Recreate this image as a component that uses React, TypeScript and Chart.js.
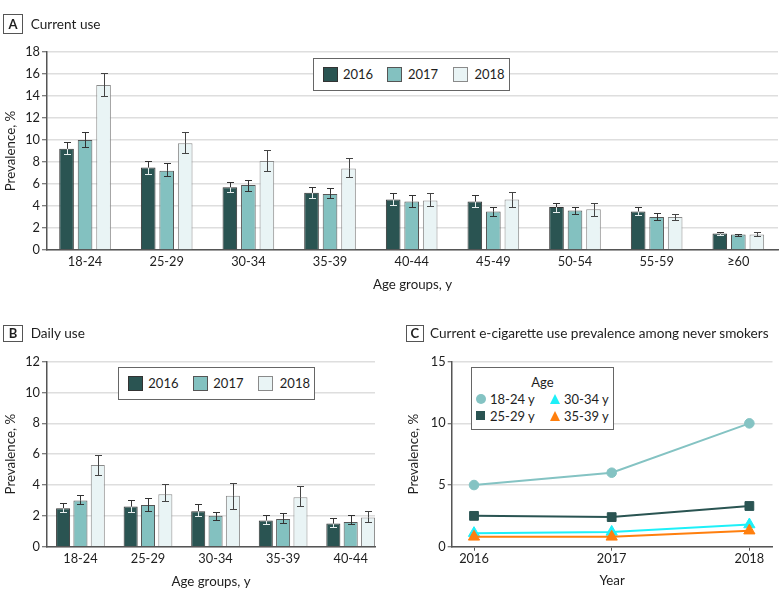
import React, { useEffect, useRef } from "react";
import { Chart, registerables } from "chart.js";

Chart.register(...registerables);

// ---------------- DATA ----------------
const ageGroupsA = ["18-24", "25-29", "30-34", "35-39", "40-44", "45-49", "50-54", "55-59", "≥60"];
const ageGroupsB = ["18-24", "25-29", "30-34", "35-39", "40-44"];
const yearLabels = ["2016", "2017", "2018"];

const current2016 = [9.2, 7.5, 5.7, 5.2, 4.6, 4.4, 3.9, 3.5, 1.5];
const current2016Low = [8.7, 6.95, 5.3, 4.75, 4.1, 3.9, 3.5, 3.2, 1.4];
const current2016High = [9.8, 8.1, 6.2, 5.7, 5.2, 5.0, 4.3, 3.9, 1.6];
const current2017 = [10.0, 7.2, 5.9, 5.1, 4.4, 3.5, 3.6, 3.0, 1.4];
const current2017Low = [9.4, 6.7, 5.4, 4.7, 3.9, 3.1, 3.3, 2.7, 1.3];
const current2017High = [10.7, 7.9, 6.4, 5.6, 5.0, 3.9, 3.9, 3.4, 1.5];
const current2018 = [15.0, 9.7, 8.1, 7.4, 4.5, 4.6, 3.7, 3.0, 1.4];
const current2018Low = [14.0, 8.8, 7.2, 6.6, 4.0, 3.9, 3.1, 2.7, 1.25];
const current2018High = [16.1, 10.7, 9.1, 8.4, 5.15, 5.3, 4.3, 3.3, 1.6];

const daily2016 = [2.5, 2.6, 2.3, 1.7, 1.5];
const daily2016Low = [2.25, 2.27, 2.0, 1.47, 1.26];
const daily2016High = [2.85, 3.03, 2.75, 2.03, 1.84];
const daily2017 = [3.0, 2.7, 2.0, 1.8, 1.6];
const daily2017Low = [2.77, 2.34, 1.73, 1.56, 1.45];
const daily2017High = [3.35, 3.14, 2.23, 2.16, 2.05];
const daily2018 = [5.3, 3.4, 3.3, 3.2, 1.9];
const daily2018Low = [4.65, 2.94, 2.47, 2.64, 1.58];
const daily2018High = [5.93, 4.05, 4.15, 3.94, 2.33];

const neverYears = [2016, 2017, 2018];
const ageGroupsC = ["18-24 y", "25-29 y", "30-34 y", "35-39 y"];
const never1824 = [5.0, 6.0, 10.0];
const never2529 = [2.5, 2.4, 3.3];
const never3034 = [1.1, 1.2, 1.8];
const never3539 = [0.8, 0.8, 1.3];

// ---------------- STYLE ----------------
const FONT = "Lato, 'Noto Sans', sans-serif";
const TEXT = "#1e1e1e";
const GRID = "#dedede";
const AXIS = "#555555";

const FILL16 = "#2a5452";
const FILL17 = "#83c1c0";
const FILL18 = "#e9f4f5";
const EDGE16 = "#333333";
const EDGE17 = "#555555";
const EDGE18 = "#8a8a8a";

const LINE1824 = "#84c3c3";
const LINE2529 = "#2a5452";
const LINE3034 = "#1ef0f8";
const LINE3539 = "#ff7f0e";

const TITLE_SIZE = 13.6;
const AXIS_TITLE_SIZE = 13.3;
const TICK_SIZE = 12.8;

Chart.defaults.font.family = FONT;
Chart.defaults.color = TEXT;

const errorBarPlugin = {
  id: "errorBars",
  afterDatasetsDraw(chart: any) {
    const ctx = chart.ctx;
    const yScale = chart.scales.y;
    chart.data.datasets.forEach((ds: any, di: number) => {
      if (!ds.errLow) return;
      const meta = chart.getDatasetMeta(di);
      meta.data.forEach((bar: any, i: number) => {
        const x = Math.round(bar.x) + 0.5;
        const yTop = bar.y;
        const yl = Math.round(yScale.getPixelForValue(ds.errLow[i])) + 0.5;
        const yh = Math.round(yScale.getPixelForValue(ds.errHigh[i])) + 0.5;
        const cap = 3.5;
        ctx.save();
        ctx.lineWidth = 1;
        ctx.strokeStyle = ds.errInner;
        ctx.beginPath();
        ctx.moveTo(x, yl);
        ctx.lineTo(x, yTop);
        ctx.moveTo(x - cap, yl);
        ctx.lineTo(x + cap, yl);
        ctx.stroke();
        ctx.strokeStyle = ds.errColor;
        ctx.beginPath();
        ctx.moveTo(x, yTop);
        ctx.lineTo(x, yh);
        ctx.moveTo(x - cap, yh);
        ctx.lineTo(x + cap, yh);
        ctx.stroke();
        ctx.restore();
      });
    });
  },
};

type Series = {
  label: string;
  values: number[];
  low: number[];
  high: number[];
  fill: string;
  border: string;
  errColor: string;
  errInner: string;
};

function makeBarConfig(p: {
  labels: string[];
  series: Series[];
  yMax: number;
  yStep: number;
  xMin: number;
  xMax: number;
  catPct: number;
  barPct: number;
  padTop: number;
  padRight: number;
  yAxisW: number;
  xAxisH: number;
  xTitlePad: number;
  yTitlePad: number;
}) {
  return {
    type: "bar",
    data: {
      datasets: p.series.map((s) => ({
        label: s.label,
        data: s.values.map((v, i) => ({ x: i, y: v })),
        backgroundColor: s.fill,
        borderColor: s.border,
        borderWidth: 1,
        borderSkipped: "bottom",
        categoryPercentage: p.catPct,
        barPercentage: p.barPct,
        errLow: s.low,
        errHigh: s.high,
        errColor: s.errColor,
        errInner: s.errInner,
      })),
    },
    options: {
      responsive: false,
      animation: false,
      devicePixelRatio: 1,
      layout: { padding: { top: p.padTop, right: p.padRight, left: 0, bottom: 0 } },
      plugins: { legend: { display: false }, tooltip: { enabled: false } },
      scales: {
        x: {
          type: "linear",
          min: p.xMin,
          max: p.xMax,
          bounds: "data",
          offset: false,
          grid: { display: false, drawTicks: false, offset: false },
          border: { display: true, color: AXIS, width: 1.5 },
          afterBuildTicks: (s: any) => {
            s.ticks = p.labels.map((_, i) => ({ value: i }));
          },
          ticks: {
            callback: (v: any) => p.labels[Math.round(Number(v))] ?? "",
            padding: 4,
            autoSkip: false,
            maxRotation: 0,
            font: { size: TICK_SIZE, lineHeight: 1.2 },
            color: TEXT,
          },
          title: {
            display: true,
            text: "Age groups, y",
            font: { size: AXIS_TITLE_SIZE, lineHeight: 1.2 },
            color: TEXT,
            padding: { top: 0, bottom: p.xTitlePad },
          },
          afterFit: (s: any) => {
            s.height = p.xAxisH;
          },
        },
        y: {
          min: 0,
          max: p.yMax,
          ticks: { stepSize: p.yStep, padding: 2, font: { size: TICK_SIZE, lineHeight: 1.2 }, color: TEXT },
          grid: {
            color: GRID,
            lineWidth: 1.5,
            drawTicks: true,
            tickLength: 5,
            tickColor: AXIS,
            tickWidth: 1,
          },
          border: { display: true, color: AXIS, width: 1.5 },
          title: {
            display: true,
            text: "Prevalence, %",
            font: { size: AXIS_TITLE_SIZE, lineHeight: 1.2 },
            color: TEXT,
            padding: { top: p.yTitlePad, bottom: 0 },
          },
          afterFit: (s: any) => {
            s.width = p.yAxisW;
          },
        },
      },
    },
    plugins: [errorBarPlugin],
  };
}

function makeConfigA() {
  return makeBarConfig({
    labels: ageGroupsA,
    series: [
      { label: yearLabels[0], values: current2016, low: current2016Low, high: current2016High, fill: FILL16, border: EDGE16, errColor: "#333", errInner: "#e6eeee" },
      { label: yearLabels[1], values: current2017, low: current2017Low, high: current2017High, fill: FILL17, border: EDGE17, errColor: "#333", errInner: "#333" },
      { label: yearLabels[2], values: current2018, low: current2018Low, high: current2018High, fill: FILL18, border: EDGE18, errColor: "#444", errInner: "#444" },
    ],
    yMax: 18,
    yStep: 2,
    xMin: -0.466,
    xMax: 8.486,
    catPct: 0.68,
    barPct: 0.79,
    padTop: 52,
    padRight: 2,
    yAxisW: 47,
    xAxisH: 50,
    xTitlePad: 7.8,
    yTitlePad: 2.8,
  });
}

function makeConfigB() {
  return makeBarConfig({
    labels: ageGroupsB,
    series: [
      { label: yearLabels[0], values: daily2016, low: daily2016Low, high: daily2016High, fill: FILL16, border: EDGE16, errColor: "#333", errInner: "#e6eeee" },
      { label: yearLabels[1], values: daily2017, low: daily2017Low, high: daily2017High, fill: FILL17, border: EDGE17, errColor: "#333", errInner: "#333" },
      { label: yearLabels[2], values: daily2018, low: daily2018Low, high: daily2018High, fill: FILL18, border: EDGE18, errColor: "#444", errInner: "#444" },
    ],
    yMax: 12,
    yStep: 2,
    xMin: -0.495,
    xMax: 4.36,
    catPct: 0.77,
    barPct: 0.81,
    padTop: 61.7,
    padRight: 15,
    yAxisW: 47,
    xAxisH: 51.3,
    xTitlePad: 8.8,
    yTitlePad: 2.8,
  });
}

function makeConfigC() {
  const mk = (label: string, vals: number[], color: string, style: string, radius: number, order: number) => ({
    label,
    data: vals.map((v, i) => ({ x: neverYears[i], y: v })),
    borderColor: color,
    backgroundColor: color,
    borderWidth: 2,
    pointStyle: style,
    pointRadius: radius,
    pointBorderWidth: 1,
    pointBackgroundColor: color,
    pointBorderColor: color,
    order,
  });
  return {
    type: "line",
    data: {
      datasets: [
        mk(ageGroupsC[0], never1824, LINE1824, "circle", 4.8, 3),
        mk(ageGroupsC[1], never2529, LINE2529, "rect", 6.2, 2),
        mk(ageGroupsC[2], never3034, LINE3034, "triangle", 6.5, 1),
        mk(ageGroupsC[3], never3539, LINE3539, "triangle", 6.5, 0),
      ],
    },
    options: {
      responsive: false,
      animation: false,
      devicePixelRatio: 1,
      layout: { padding: { top: 61.7, right: 3.3, left: 0, bottom: 0 } },
      plugins: { legend: { display: false }, tooltip: { enabled: false } },
      scales: {
        x: {
          type: "linear",
          min: 2015.838,
          max: 2018.168,
          bounds: "data",
          offset: false,
          grid: { display: true, drawOnChartArea: false, drawTicks: true, tickLength: 4, tickColor: AXIS, tickWidth: 1 },
          border: { display: true, color: AXIS, width: 1.5 },
          afterBuildTicks: (s: any) => {
            s.ticks = neverYears.map((v) => ({ value: v }));
          },
          ticks: {
            callback: (v: any) => String(v),
            padding: 0,
            autoSkip: false,
            maxRotation: 0,
            font: { size: TICK_SIZE, lineHeight: 1.2 },
            color: TEXT,
          },
          title: {
            display: true,
            text: "Year",
            font: { size: AXIS_TITLE_SIZE, lineHeight: 1.2 },
            color: TEXT,
            padding: { top: 0, bottom: 9.8 },
          },
          afterFit: (s: any) => {
            s.height = 51.3;
          },
        },
        y: {
          min: 0,
          max: 15,
          ticks: { stepSize: 5, padding: 2, font: { size: TICK_SIZE, lineHeight: 1.2 }, color: TEXT },
          grid: { color: GRID, lineWidth: 1.5, drawTicks: true, tickLength: 4, tickColor: AXIS, tickWidth: 1 },
          border: { display: true, color: AXIS, width: 1.5 },
          title: {
            display: true,
            text: "Prevalence, %",
            font: { size: AXIS_TITLE_SIZE, lineHeight: 1.2 },
            color: TEXT,
            padding: { top: 15.8, bottom: 0 },
          },
          afterFit: (s: any) => {
            s.width = 61.7;
          },
        },
      },
    },
  };
}

// ---------------- COMPONENTS ----------------
function ChartCanvas({ make, left, top, width, height }: { make: () => any; left: number; top: number; width: number; height: number }) {
  const ref = useRef<HTMLCanvasElement>(null);
  useEffect(() => {
    const chart = new Chart(ref.current as HTMLCanvasElement, make());
    return () => chart.destroy();
  }, []);
  return (
    <canvas
      ref={ref}
      width={width}
      height={height}
      style={{ position: "absolute", left, top, width, height, display: "block" }}
    />
  );
}

function PanelTitle({ letter, text, left, top, w, h, textLeft }: { letter: string; text: string; left: number; top: number; w: number; h: number; textLeft: number }) {
  return (
    <>
      <div
        style={{
          position: "absolute",
          left,
          top,
          width: w,
          height: h,
          boxSizing: "border-box",
          border: "1px solid #555",
          textAlign: "center",
          lineHeight: `${h - 2}px`,
          fontWeight: 700,
          fontSize: 13,
        }}
      >
        {letter}
      </div>
      <div
        style={{
          position: "absolute",
          left: textLeft,
          top,
          height: h,
          lineHeight: `${h}px`,
          fontSize: TITLE_SIZE,
          whiteSpace: "nowrap",
        }}
      >
        {text}
      </div>
    </>
  );
}

function YearLegend({ left, top }: { left: number; top: number }) {
  const fills = [FILL16, FILL17, FILL18];
  const edges = [EDGE16, EDGE17, EDGE18];
  const swatchX = [9.5, 74.3, 140];
  const textX = [30, 95, 161.5];
  const H = 33;
  return (
    <div
      style={{
        position: "absolute",
        left,
        top,
        width: 197,
        height: H,
        boxSizing: "border-box",
        border: "1px solid #666",
        background: "#fff",
      }}
    >
      {yearLabels.map((y, i) => (
        <React.Fragment key={y}>
          <div
            style={{
              position: "absolute",
              left: swatchX[i] - 1,
              top: (H - 15) / 2 - 1,
              width: 15,
              height: 15,
              boxSizing: "border-box",
              background: fills[i],
              border: `1px solid ${edges[i]}`,
            }}
          />
          <div
            style={{
              position: "absolute",
              left: textX[i] - 1,
              top: 0,
              height: H - 2,
              lineHeight: `${H - 2}px`,
              fontSize: 13,
              whiteSpace: "nowrap",
            }}
          >
            {y}
          </div>
        </React.Fragment>
      ))}
    </div>
  );
}

function Marker({ kind, color, cx, cy }: { kind: string; color: string; cx: number; cy: number }) {
  if (kind === "circle") {
    return <div style={{ position: "absolute", left: cx - 5, top: cy - 5, width: 10, height: 10, borderRadius: 5, background: color }} />;
  }
  if (kind === "rect") {
    return <div style={{ position: "absolute", left: cx - 4.5, top: cy - 4.5, width: 9, height: 9, background: color }} />;
  }
  return (
    <div
      style={{
        position: "absolute",
        left: cx - 5.5,
        top: cy - 5,
        width: 0,
        height: 0,
        borderLeft: "5.5px solid transparent",
        borderRight: "5.5px solid transparent",
        borderBottom: `10px solid ${color}`,
      }}
    />
  );
}

function AgeLegend({ left, top }: { left: number; top: number }) {
  const items = [
    { label: ageGroupsC[0], kind: "circle", color: LINE1824, cx: 10, cy: 31.7, tx: 19.3 },
    { label: ageGroupsC[1], kind: "rect", color: LINE2529, cx: 10, cy: 48.7, tx: 19.3 },
    { label: ageGroupsC[2], kind: "triangle", color: LINE3034, cx: 85, cy: 31.7, tx: 93.3 },
    { label: ageGroupsC[3], kind: "triangle", color: LINE3539, cx: 85, cy: 48.7, tx: 93.3 },
  ];
  return (
    <div
      style={{
        position: "absolute",
        left,
        top,
        width: 143.5,
        height: 63,
        boxSizing: "border-box",
        border: "1px solid #666",
        background: "#fff",
      }}
    >
      <div style={{ position: "absolute", left: 0, width: 141.5, top: 14.4 - 1 - 9, height: 18, lineHeight: "18px", textAlign: "center", fontSize: 13 }}>
        Age
      </div>
      {items.map((it) => (
        <React.Fragment key={it.label}>
          <Marker kind={it.kind} color={it.color} cx={it.cx - 1} cy={it.cy - 1} />
          <div
            style={{
              position: "absolute",
              left: it.tx - 1,
              top: it.cy - 1 - 9,
              height: 18,
              lineHeight: "18px",
              fontSize: 13,
              whiteSpace: "nowrap",
            }}
          >
            {it.label}
          </div>
        </React.Fragment>
      ))}
    </div>
  );
}

export default function App() {
  return (
    <div
      style={{
        position: "absolute",
        left: 0,
        top: 0,
        width: 780,
        height: 598,
        overflow: "hidden",
        background: "#fff",
        fontFamily: FONT,
        color: TEXT,
      }}
    >
      <ChartCanvas make={makeConfigA} left={0} top={0} width={780} height={300} />
      <ChartCanvas make={makeConfigB} left={0} top={300} width={390} height={298} />
      <ChartCanvas make={makeConfigC} left={390} top={300} width={390} height={298} />
      <PanelTitle letter="A" text="Current use" left={3} top={13.5} w={20} h={20} textLeft={30.7} />
      <PanelTitle letter="B" text="Daily use" left={3} top={325} w={20} h={17} textLeft={30.7} />
      <PanelTitle letter="C" text="Current e-cigarette use prevalence among never smokers" left={406} top={325} w={17.5} h={17} textLeft={430} />
      <YearLegend left={313} top={58} />
      <YearLegend left={118.3} top={366.5} />
      <AgeLegend left={470.7} top={367.3} />
    </div>
  );
}
